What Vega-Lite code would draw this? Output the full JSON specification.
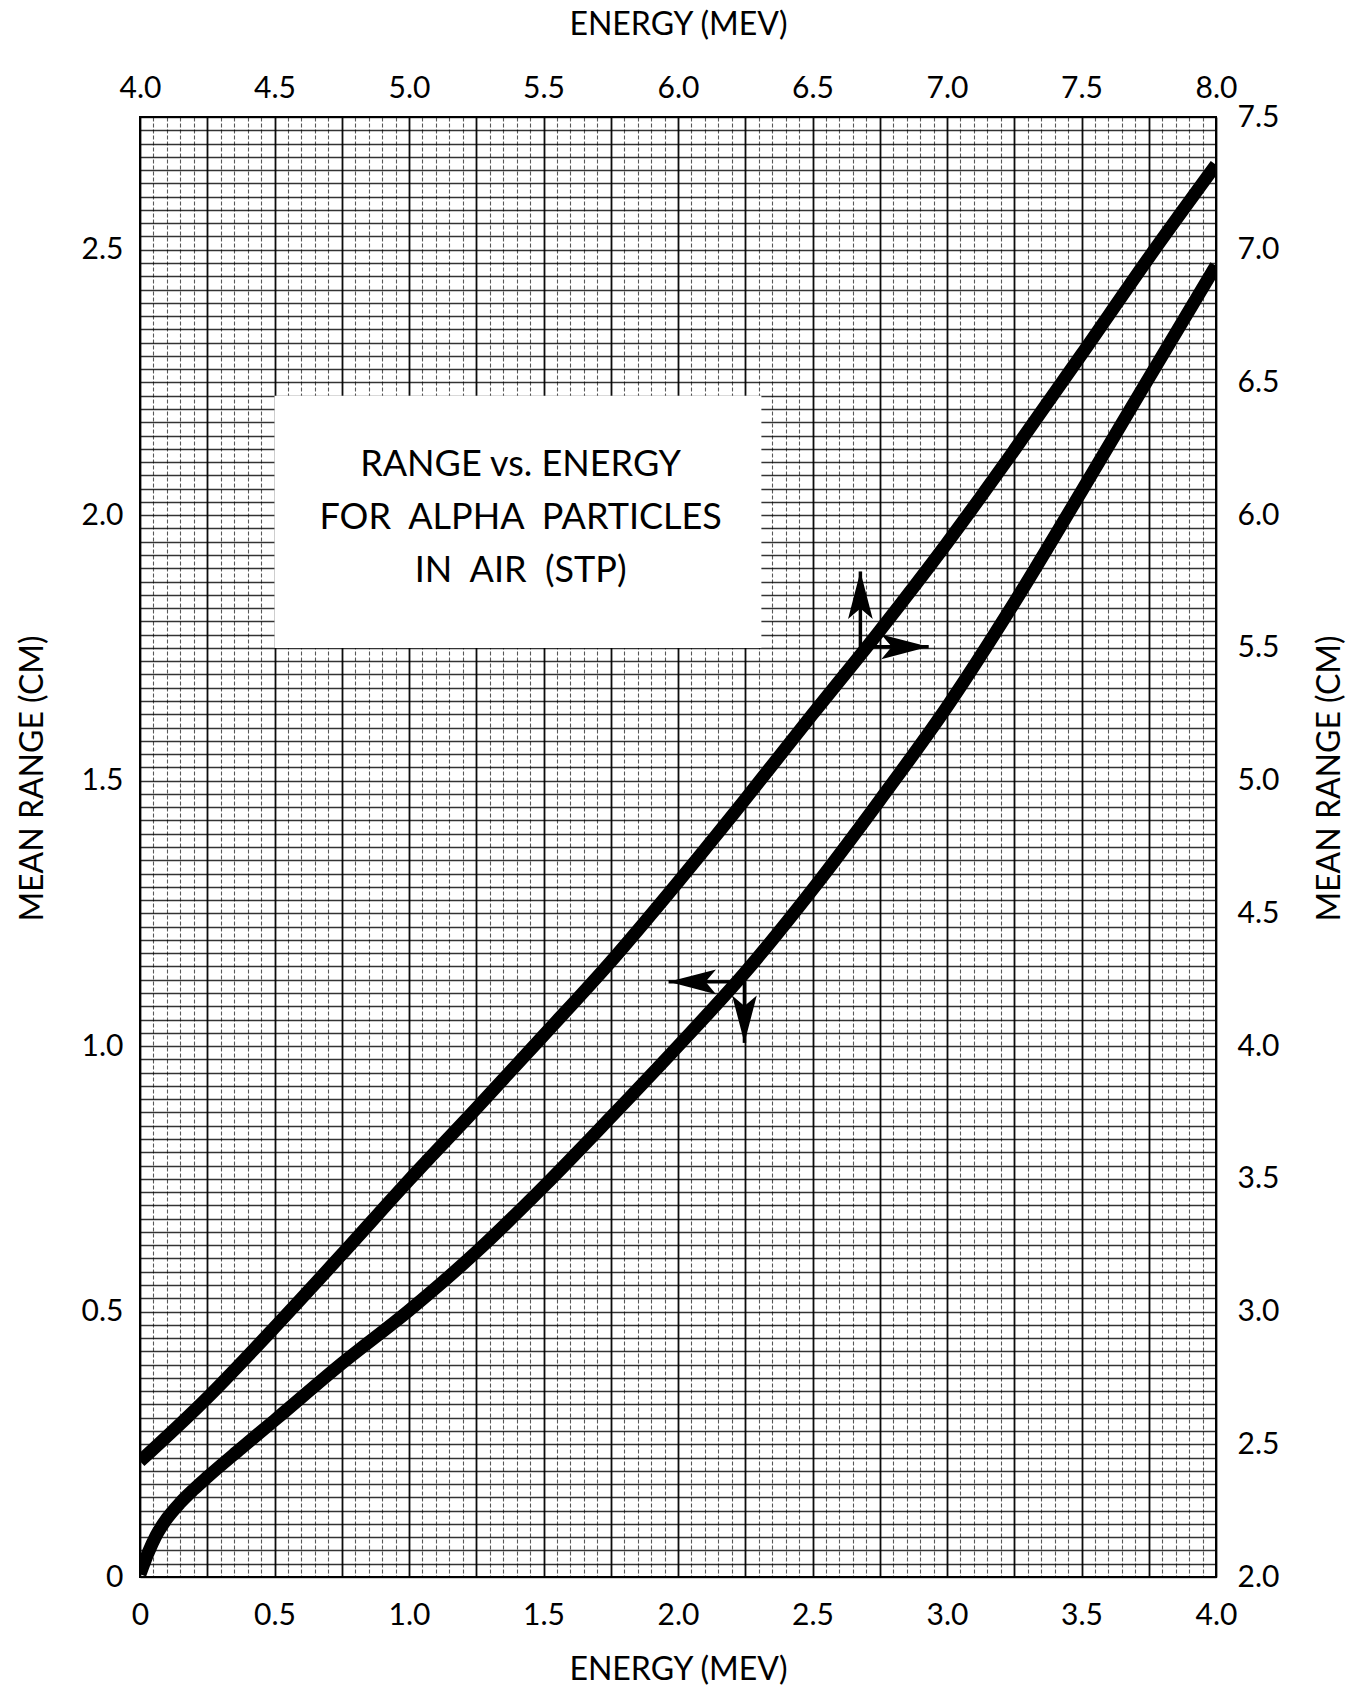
{
  "$schema": "https://vega.github.io/schema/vega-lite/v6.json",
  "width": 1076,
  "height": 1460,
  "autosize": {"type": "none"},
  "padding": {"left": 140, "top": 117, "right": 147, "bottom": 118},
  "background": "white",
  "config": {
    "view": {"stroke": "black", "strokeWidth": 2},
    "font": "Lato",
    "axis": {
      "labelFont": "Lato",
      "titleFont": "Lato",
      "labelColor": "black",
      "titleColor": "black",
      "titleFontWeight": "normal",
      "labelFontSize": 30,
      "titleFontSize": 32,
      "domain": false,
      "ticks": false,
      "labelFlush": false,
      "labelOverlap": false,
      "labelBound": false
    }
  },
  "datasets": {
    "lower": [
      {"energy": 0, "range": 0.005},
      {"energy": 0.03, "range": 0.045},
      {"energy": 0.06, "range": 0.078},
      {"energy": 0.1, "range": 0.11},
      {"energy": 0.15, "range": 0.14},
      {"energy": 0.2, "range": 0.165},
      {"energy": 0.25, "range": 0.188},
      {"energy": 0.375, "range": 0.242},
      {"energy": 0.5, "range": 0.295},
      {"energy": 0.75, "range": 0.402},
      {"energy": 1.0, "range": 0.502},
      {"energy": 1.25, "range": 0.612},
      {"energy": 1.5, "range": 0.735},
      {"energy": 1.75, "range": 0.866},
      {"energy": 2.0, "range": 1.0},
      {"energy": 2.25, "range": 1.139},
      {"energy": 2.5, "range": 1.295},
      {"energy": 2.75, "range": 1.463},
      {"energy": 3.0, "range": 1.639},
      {"energy": 3.25, "range": 1.835},
      {"energy": 3.5, "range": 2.045},
      {"energy": 3.75, "range": 2.258},
      {"energy": 4.0, "range": 2.47}
    ],
    "upper": [
      {"energy": 4.0, "range": 2.436},
      {"energy": 4.25, "range": 2.675},
      {"energy": 4.5, "range": 2.94},
      {"energy": 4.75, "range": 3.215},
      {"energy": 5.0, "range": 3.495},
      {"energy": 5.25, "range": 3.765},
      {"energy": 5.5, "range": 4.04},
      {"energy": 5.75, "range": 4.318},
      {"energy": 6.0, "range": 4.618},
      {"energy": 6.25, "range": 4.93},
      {"energy": 6.5, "range": 5.25},
      {"energy": 6.75, "range": 5.565},
      {"energy": 7.0, "range": 5.895},
      {"energy": 7.25, "range": 6.245},
      {"energy": 7.5, "range": 6.605},
      {"energy": 7.75, "range": 6.97},
      {"energy": 8.0, "range": 7.32}
    ],
    "arrows": [
      {"dir": "up", "x0": 2.678, "y0": 1.752, "x1": 2.678, "y1": 1.894},
      {"dir": "right", "x0": 2.678, "y0": 1.752, "x1": 2.932, "y1": 1.752},
      {"dir": "left", "x0": 2.247, "y0": 1.121, "x1": 1.965, "y1": 1.121},
      {"dir": "down", "x0": 2.247, "y0": 1.121, "x1": 2.247, "y1": 1.006}
    ],
    "box": [
      {"x0": 0.5, "x1": 2.31, "y0": 1.75, "y1": 2.225}
    ],
    "note": [
      {"energy": 1.415, "range": 2.095, "label": "RANGE vs. ENERGY\nFOR \u00a0ALPHA \u00a0PARTICLES\nIN \u00a0AIR \u00a0(STP)"}
    ]
  },
  "layer": [
    {
      "data": {"name": "lower"},
      "mark": {"type": "line", "color": "black", "strokeWidth": 13, "interpolate": "monotone", "clip": true},
      "encoding": {
        "x": {
          "field": "energy",
          "type": "quantitative",
          "scale": {"domain": [0, 4], "nice": false, "zero": false},
          "axis": {
            "orient": "bottom",
            "title": "ENERGY (MEV)",
            "tickCount": 80,
            "grid": true,
            "gridColor": "black",
            "gridWidth": {"condition": {"test": "abs(datum.value*4 - round(datum.value*4)) < 0.001", "value": 1.8}, "value": 1.1},
            "gridDash": {"condition": {"test": "abs(datum.value*4 - round(datum.value*4)) < 0.001", "value": []}, "value": [4, 2]},
            "gridOpacity": {"condition": {"test": "abs(datum.value*4 - round(datum.value*4)) < 0.001", "value": 0.95}, "value": 0.65},
            "labelExpr": "abs(datum.value*2 - round(datum.value*2)) < 0.001 ? (datum.value == 0 ? '0' : format(datum.value, '.1f')) : ''",
            "labelPadding": 23,
            "titlePadding": 24
          }
        },
        "y": {
          "field": "range",
          "type": "quantitative",
          "scale": {"domain": [0, 2.75], "nice": false, "zero": false},
          "axis": {
            "orient": "left",
            "title": "MEAN RANGE (CM)",
            "values": [0, 0.025, 0.05, 0.075, 0.1, 0.125, 0.15, 0.175, 0.2, 0.225, 0.25, 0.275, 0.3, 0.325, 0.35, 0.375, 0.4, 0.425, 0.45, 0.475, 0.5, 0.525, 0.55, 0.575, 0.6, 0.625, 0.65, 0.675, 0.7, 0.725, 0.75, 0.775, 0.8, 0.825, 0.85, 0.875, 0.9, 0.925, 0.95, 0.975, 1, 1.025, 1.05, 1.075, 1.1, 1.125, 1.15, 1.175, 1.2, 1.225, 1.25, 1.275, 1.3, 1.325, 1.35, 1.375, 1.4, 1.425, 1.45, 1.475, 1.5, 1.525, 1.55, 1.575, 1.6, 1.625, 1.65, 1.675, 1.7, 1.725, 1.75, 1.775, 1.8, 1.825, 1.85, 1.875, 1.9, 1.925, 1.95, 1.975, 2, 2.025, 2.05, 2.075, 2.1, 2.125, 2.15, 2.175, 2.2, 2.225, 2.25, 2.275, 2.3, 2.325, 2.35, 2.375, 2.4, 2.425, 2.45, 2.475, 2.5, 2.525, 2.55, 2.575, 2.6, 2.625, 2.65, 2.675, 2.7, 2.725, 2.75],
            "grid": true,
            "gridColor": "black",
            "gridWidth": 1.3,
            "gridOpacity": 0.8,
            "labelExpr": "abs(datum.value*2 - round(datum.value*2)) < 0.001 ? (datum.value == 0 ? '0' : format(datum.value, '.1f')) : ''",
            "labelPadding": 17,
            "titlePadding": 32,
            "titleY": 661
          }
        }
      }
    },
    {
      "data": {"name": "box"},
      "mark": {"type": "rect", "color": "white", "opacity": 1},
      "encoding": {
        "x": {"field": "x0", "type": "quantitative", "scale": {"domain": [0, 4], "nice": false, "zero": false}, "axis": null},
        "x2": {"field": "x1"},
        "y": {"field": "y0", "type": "quantitative", "scale": {"domain": [0, 2.75], "nice": false, "zero": false}, "axis": null},
        "y2": {"field": "y1"}
      }
    },
    {
      "data": {"name": "note"},
      "mark": {"type": "text", "font": "Lato", "fontSize": 36, "lineHeight": 53, "lineBreak": "\n", "align": "center", "baseline": "middle", "color": "black"},
      "encoding": {
        "x": {"field": "energy", "type": "quantitative", "scale": {"domain": [0, 4], "nice": false, "zero": false}, "axis": null},
        "y": {"field": "range", "type": "quantitative", "scale": {"domain": [0, 2.75], "nice": false, "zero": false}, "axis": null},
        "text": {"field": "label"}
      }
    },
    {
      "data": {"name": "arrows"},
      "mark": {"type": "rule", "color": "black", "strokeWidth": 3.5},
      "encoding": {
        "x": {"field": "x0", "type": "quantitative", "scale": {"domain": [0, 4], "nice": false, "zero": false}, "axis": null},
        "x2": {"field": "x1"},
        "y": {"field": "y0", "type": "quantitative", "scale": {"domain": [0, 2.75], "nice": false, "zero": false}, "axis": null},
        "y2": {"field": "y1"}
      }
    },
    {
      "data": {"name": "arrows"},
      "transform": [{"filter": "datum.dir == 'up'"}],
      "mark": {"type": "point", "shape": "M0,0L0.26,1L0,0.78L-0.26,1Z", "filled": true, "color": "black", "opacity": 1, "size": 9000, "angle": 0},
      "encoding": {
        "x": {"field": "x1", "type": "quantitative", "scale": {"domain": [0, 4], "nice": false, "zero": false}, "axis": null},
        "y": {"field": "y1", "type": "quantitative", "scale": {"domain": [0, 2.75], "nice": false, "zero": false}, "axis": null}
      }
    },
    {
      "data": {"name": "arrows"},
      "transform": [{"filter": "datum.dir == 'right'"}],
      "mark": {"type": "point", "shape": "M0,0L0.26,1L0,0.78L-0.26,1Z", "filled": true, "color": "black", "opacity": 1, "size": 9000, "angle": 90},
      "encoding": {
        "x": {"field": "x1", "type": "quantitative", "scale": {"domain": [0, 4], "nice": false, "zero": false}, "axis": null},
        "y": {"field": "y1", "type": "quantitative", "scale": {"domain": [0, 2.75], "nice": false, "zero": false}, "axis": null}
      }
    },
    {
      "data": {"name": "arrows"},
      "transform": [{"filter": "datum.dir == 'down'"}],
      "mark": {"type": "point", "shape": "M0,0L0.26,1L0,0.78L-0.26,1Z", "filled": true, "color": "black", "opacity": 1, "size": 9000, "angle": 180},
      "encoding": {
        "x": {"field": "x1", "type": "quantitative", "scale": {"domain": [0, 4], "nice": false, "zero": false}, "axis": null},
        "y": {"field": "y1", "type": "quantitative", "scale": {"domain": [0, 2.75], "nice": false, "zero": false}, "axis": null}
      }
    },
    {
      "data": {"name": "arrows"},
      "transform": [{"filter": "datum.dir == 'left'"}],
      "mark": {"type": "point", "shape": "M0,0L0.26,1L0,0.78L-0.26,1Z", "filled": true, "color": "black", "opacity": 1, "size": 9000, "angle": 270},
      "encoding": {
        "x": {"field": "x1", "type": "quantitative", "scale": {"domain": [0, 4], "nice": false, "zero": false}, "axis": null},
        "y": {"field": "y1", "type": "quantitative", "scale": {"domain": [0, 2.75], "nice": false, "zero": false}, "axis": null}
      }
    },
    {
      "data": {"name": "upper"},
      "mark": {"type": "line", "color": "black", "strokeWidth": 13, "interpolate": "monotone", "clip": true},
      "encoding": {
        "x": {
          "field": "energy",
          "type": "quantitative",
          "scale": {"domain": [4, 8], "nice": false, "zero": false},
          "axis": {
            "orient": "top",
            "title": "ENERGY (MEV)",
            "values": [4, 4.5, 5, 5.5, 6, 6.5, 7, 7.5, 8],
            "format": ".1f",
            "grid": false,
            "labelPadding": 14,
            "titlePadding": 32
          }
        },
        "y": {
          "field": "range",
          "type": "quantitative",
          "scale": {"domain": [2, 7.5], "nice": false, "zero": false},
          "axis": {
            "orient": "right",
            "title": "MEAN RANGE (CM)",
            "values": [2, 2.5, 3, 3.5, 4, 4.5, 5, 5.5, 6, 6.5, 7, 7.5],
            "format": ".1f",
            "grid": false,
            "labelPadding": 21,
            "titleAngle": -90,
            "titleBaseline": "top",
            "titlePadding": 36,
            "titleY": 661
          }
        }
      }
    }
  ],
  "resolve": {"scale": {"x": "independent", "y": "independent"}}
}
